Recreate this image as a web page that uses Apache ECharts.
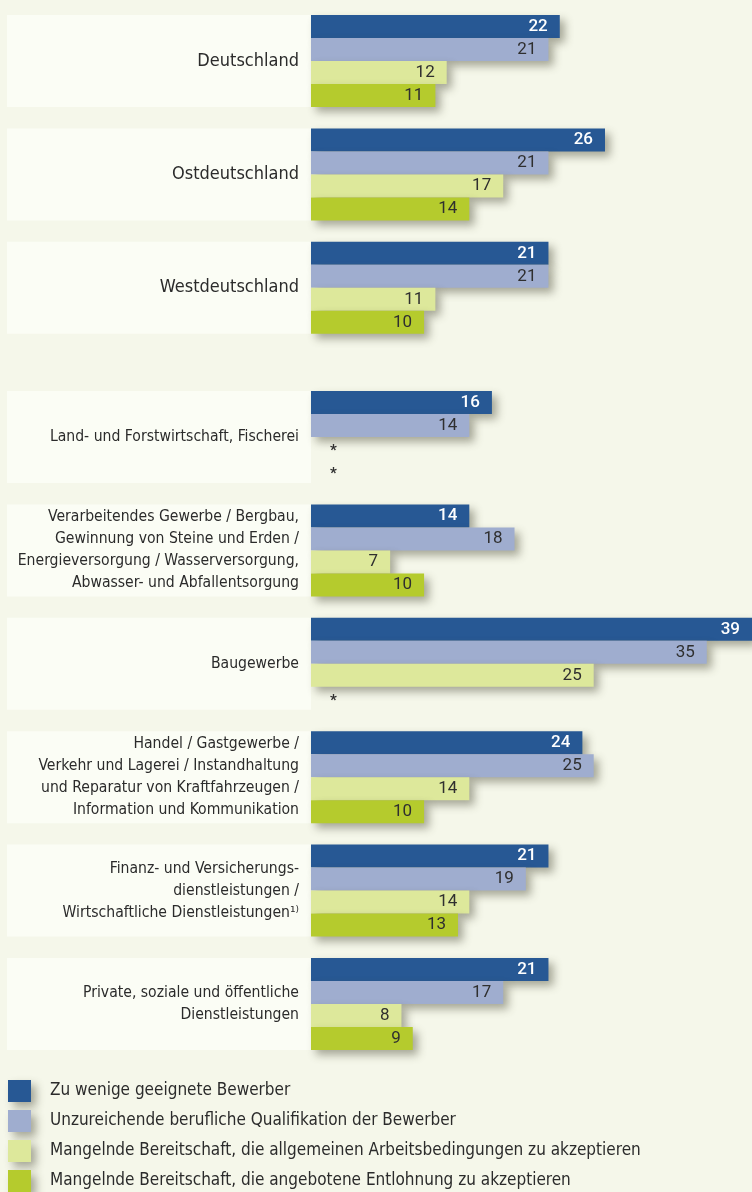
<!DOCTYPE html>
<html>
<head>
<meta charset="utf-8">
<script src="https://cdn.jsdelivr.net/npm/echarts@6/dist/echarts.min.js"></script>
<style>
  html, body { margin: 0; padding: 0; background: #f5f7ea; }
  #chart { width: 752px; height: 1192px; }
</style>
</head>
<body>
<div id="chart"></div>
<script>
// ---- Data ----
const regionCategories = ['Deutschland', 'Ostdeutschland', 'Westdeutschland'];
const sectorCategories = [
  'Land- und Forstwirtschaft, Fischerei',
  'Verarbeitendes Gewerbe / Bergbau,\nGewinnung von Steine und Erden /\nEnergieversorgung / Wasserversorgung,\nAbwasser- und Abfallentsorgung',
  'Baugewerbe',
  'Handel / Gastgewerbe /\nVerkehr und Lagerei / Instandhaltung\nund Reparatur von Kraftfahrzeugen /\nInformation und Kommunikation',
  'Finanz- und Versicherungs-\ndienstleistungen /\nWirtschaftliche Dienstleistungen\u00b9\u207e',
  'Private, soziale und öffentliche\nDienstleistungen'
];
const seriesNames = [
  'Zu wenige geeignete Bewerber',
  'Unzureichende berufliche Qualifikation der Bewerber',
  'Mangelnde Bereitschaft, die allgemeinen Arbeitsbedingungen zu akzeptieren',
  'Mangelnde Bereitschaft, die angebotene Entlohnung zu akzeptieren'
];
const regionBewerber       = [22, 26, 21];
const regionQualifikation  = [21, 21, 21];
const regionArbeitsbed     = [12, 17, 11];
const regionEntlohnung     = [11, 14, 10];
const sectorBewerber       = [16, 14, 39, 24, 21, 21];
const sectorQualifikation  = [14, 18, 35, 25, 19, 17];
const sectorArbeitsbed     = [null, 7, 25, 14, 14, 8];
const sectorEntlohnung     = [null, 10, null, 10, 13, 9];
const missingMark = '*';

// ---- Styles ----
const colors = ['#275894', '#9fadcf', '#dde89b', '#b5cb2d'];
const labelColors = ['#ffffff', '#2f2f2f', '#2f2f2f', '#2f2f2f'];
const catFont = "'DejaVu Sans Condensed', sans-serif";
const numFont = "Roboto, 'Noto Sans', sans-serif";
const shadow = {
  shadowColor: 'rgba(70, 70, 50, 0.45)',
  shadowBlur: 8,
  shadowOffsetX: 5,
  shadowOffsetY: 5
};

const chart = echarts.init(document.getElementById('chart'), null, { renderer: 'canvas' });

function makeData(arr) {
  return arr.map(v => v == null
    ? { value: 0,
        itemStyle: { shadowBlur: 0, shadowColor: 'transparent' },
        label: { show: true, position: 'right', distance: 19, formatter: missingMark,
                 color: '#2f2f2f', fontSize: 15, fontWeight: 'bold', offset: [0, 3] } }
    : v);
}

function makeSeries(grid, seriesArrays) {
  return seriesArrays.map((arr, i) => ({
    name: seriesNames[i],
    type: 'bar',
    xAxisIndex: grid,
    yAxisIndex: grid,
    barWidth: 23,
    barGap: '0%',
    data: makeData(arr),
    itemStyle: Object.assign({ color: colors[i] }, shadow),
    label: {
      show: true,
      position: 'insideRight',
      distance: 12,
      color: labelColors[i],
      fontFamily: numFont,
      fontSize: 17,
      fontWeight: i === 0 ? 500 : 400
    },
    emphasis: { disabled: true },
    silent: true,
    animation: false
  }));
}

function yAxisFor(grid, cats, fontSize) {
  return {
    type: 'category',
    gridIndex: grid,
    inverse: true,
    data: cats,
    axisLine: { show: false },
    axisTick: { show: false },
    splitLine: { show: false },
    axisLabel: {
      interval: 0,
      margin: 0,
      align: 'right',
      verticalAlign: 'middle',
      width: 292,
      height: 92,
      padding: [0, 12, 0, 0],
      backgroundColor: '#fbfdf5',
      color: '#2b2b2b',
      fontFamily: catFont,
      fontSize: fontSize,
      lineHeight: 22,
      overflow: 'none'
    }
  };
}

function xAxisFor(grid) {
  return { type: 'value', gridIndex: grid, min: 0, max: 39, show: false };
}

const option = {
  backgroundColor: '#f5f7ea',
  animation: false,
  grid: [
    { left: 311, width: 441, top: 4.3, height: 340.2, containLabel: false },
    { left: 311, width: 441, top: 380.3, height: 680.4, containLabel: false }
  ],
  xAxis: [xAxisFor(0), xAxisFor(1)],
  yAxis: [yAxisFor(0, regionCategories, 18), yAxisFor(1, sectorCategories, 15.6)],
  legend: {
    orient: 'vertical',
    left: 8,
    top: 1080,
    height: 200,
    itemWidth: 23,
    itemHeight: 22,
    itemGap: 8,
    padding: 0,
    icon: 'rect',
    selectedMode: false,
    data: seriesNames,
    itemStyle: shadow,
    textStyle: {
      fontFamily: catFont,
      fontSize: 17,
      color: '#2b2b2b',
      padding: [0, 0, 0, 14]
    }
  },
  series: [
    ...makeSeries(0, [regionBewerber, regionQualifikation, regionArbeitsbed, regionEntlohnung]),
    ...makeSeries(1, [sectorBewerber, sectorQualifikation, sectorArbeitsbed, sectorEntlohnung])
  ]
};
chart.setOption(option);
</script>
</body>
</html>
